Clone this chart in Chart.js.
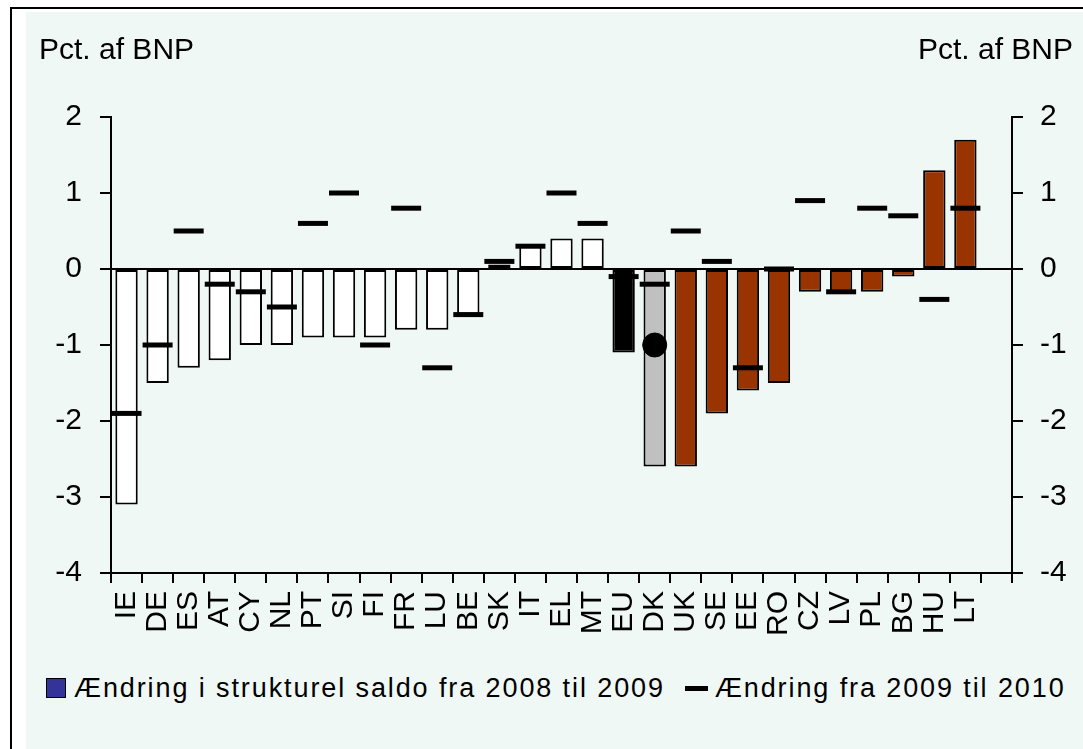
<!DOCTYPE html>
<html lang="da">
<head>
  <meta charset="UTF-8">
  <title>Ændring i strukturel saldo</title>
  <script src="https://cdn.jsdelivr.net/npm/chart.js"></script>
  <style>
    body {
      margin: 0;
      width: 1083px;
      height: 749px;
      background: #fff;
      font-family: "Liberation Sans", Arial, sans-serif;
      position: relative;
      overflow: hidden;
    }
    #frame {
      position: absolute;
      left: 10px;
      top: 7px;
      right: 0;
      bottom: 0;
      border-top: 2px solid #000;
      border-left: 2px solid #000;
    }
    #panel {
      position: absolute;
      left: 26px;
      top: 12px;
      right: 0;
      bottom: 0;
      background: #f0f8f5;
    }
    #chartBox {
      position: absolute;
      left: 26px;
      top: 12px;
      width: 1057px;
      height: 640px;
    }
    .axisTitle {
      position: absolute;
      top: 34px;
      font-size: 30px;
      line-height: 30px;
      color: #000;
      white-space: nowrap;
    }
    #legend {
      position: absolute;
      left: 46px;
      top: 674px;
      display: flex;
      align-items: center;
      font-size: 27px;
      line-height: 28px;
      letter-spacing: 1.9px;
      white-space: nowrap;
    }
    .box {
      width: 18px;
      height: 18px;
      background: #333399;
      border: 1px solid #000;
      margin-right: 8px;
    }
    .dash {
      width: 23px;
      height: 5px;
      background: #000;
      margin-left: 20px;
      margin-right: 7px;
    }
  </style>
</head>
<body>
  <div id="frame"></div>
  <div id="panel"></div>
  <div id="chartBox"><canvas id="chart"></canvas></div>
  <div class="axisTitle" style="left:39px">Pct. af BNP</div>
  <div class="axisTitle" style="right:10px">Pct. af BNP</div>
  <div id="legend">
    <span class="box"></span><span>Ændring i strukturel saldo fra 2008 til 2009</span>
    <span class="dash"></span><span>Ændring fra 2009 til 2010</span>
  </div>

  <script>
    // Lande (sidste kategori er tom i originalen)
    const countries = ['IE', 'DE', 'ES', 'AT', 'CY', 'NL', 'PT', 'SI', 'FI', 'FR', 'LU', 'BE', 'SK', 'IT', 'EL', 'MT',
                       'EU', 'DK', 'UK', 'SE', 'EE', 'RO', 'CZ', 'LV', 'PL', 'BG', 'HU', 'LT', ''];

    // Ændring i strukturel saldo fra 2008 til 2009
    const change0809 = [-3.1, -1.5, -1.3, -1.2, -1.0, -1.0, -0.9, -0.9, -0.9, -0.8, -0.8, -0.6, 0.06, 0.3, 0.4, 0.4,
                        -1.1, -2.6, -2.6, -1.9, -1.6, -1.5, -0.3, -0.3, -0.3, -0.1, 1.3, 1.7, null];

    // Ændring fra 2009 til 2010
    const change0910 = [-1.9, -1.0, 0.5, -0.2, -0.3, -0.5, 0.6, 1.0, -1.0, 0.8, -1.3, -0.6, 0.1, 0.3, 1.0, 0.6,
                        -0.1, -0.2, 0.5, 0.1, -1.3, 0.0, 0.9, -0.3, 0.8, 0.7, -0.4, 0.8, null];

    // Særskilt punkt for DK
    const dkPoint = countries.map(c => c === 'DK' ? -1.0 : null);

    const yTicks = [-4, -3, -2, -1, 0, 1, 2];

    // bar colours: euro area white, EU black, DK grey, the rest rust
    const dkIndex = countries.indexOf('DK');
    const barColors = countries.map((c, i) => {
      if (c === 'EU') return '#000000';
      if (c === 'DK') return '#c0c0c0';
      if (i > dkIndex) return '#993300';
      return '#ffffff';
    });

    Chart.defaults.font.family = '"Liberation Sans", Arial, sans-serif';
    Chart.defaults.color = '#000';

    new Chart(document.getElementById('chart'), {
      type: 'bar',
      data: {
        labels: countries,
        datasets: [
          {
            label: 'Ændring fra 2009 til 2010',
            type: 'line',
            data: change0910,
            showLine: false,
            pointStyle: 'line',
            pointRadius: 15,
            pointHoverRadius: 15,
            pointBorderWidth: 5,
            pointBorderColor: '#000',
            order: 1
          },
          {
            label: 'DK',
            type: 'line',
            data: dkPoint,
            showLine: false,
            pointStyle: 'circle',
            pointRadius: 12,
            pointHoverRadius: 12,
            pointBackgroundColor: '#000',
            pointBorderColor: '#000',
            order: 2
          },
          {
            label: 'Ændring i strukturel saldo fra 2008 til 2009',
            data: change0809,
            backgroundColor: barColors,
            borderColor: '#000',
            borderWidth: 2,
            borderSkipped: false,
            barPercentage: 0.72,
            categoryPercentage: 1,
            order: 3
          }
        ]
      },
      options: {
        responsive: true,
        maintainAspectRatio: false,
        animation: false,
        layout: { padding: { top: 105, left: 0, right: 0, bottom: 0 } },
        plugins: {
          legend: { display: false },
          tooltip: { enabled: false }
        },
        scales: {
          x: {
            position: 'bottom',
            offset: true,
            grid: { offset: true, drawOnChartArea: false, tickLength: 10, tickColor: '#000', lineWidth: 2 },
            border: { color: '#000', width: 2 },
            ticks: { autoSkip: false, minRotation: 90, maxRotation: 90, padding: 8, font: { size: 30 } },
            afterFit: s => { s.height = 79; }
          },
          y: {
            position: 'left',
            min: -4,
            max: 2,
            afterBuildTicks: s => { s.ticks = yTicks.map(v => ({ value: v })); },
            grid: {
              color: c => c.tick && c.tick.value === 0 ? '#000' : 'rgba(0,0,0,0)',
              tickColor: '#000',
              tickLength: 11,
              lineWidth: 2
            },
            border: { color: '#000', width: 2 },
            ticks: { padding: 18, font: { size: 30 } },
            afterFit: s => { s.width = 85; }
          },
          y2: {
            position: 'right',
            min: -4,
            max: 2,
            afterBuildTicks: s => { s.ticks = yTicks.map(v => ({ value: v })); },
            grid: { drawOnChartArea: false, tickColor: '#000', tickLength: 11, lineWidth: 2 },
            border: { color: '#000', width: 2 },
            ticks: { padding: 17, font: { size: 30 } },
            afterFit: s => { s.width = 71; }
          }
        }
      }
    });
  </script>
</body>
</html>
